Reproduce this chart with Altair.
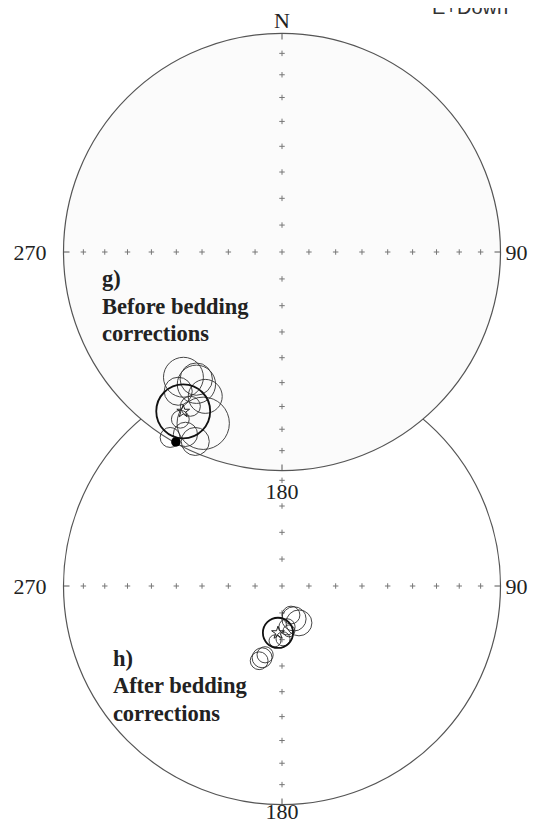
import altair as alt
import numpy as np
import pandas as pd

# ---------------- data ----------------
# g) before bedding corrections: site means (declination, inclination, alpha95 in degrees)
g_dec = [218.2, 212.9, 208.0, 216.7, 204.7, 207.9, 211.1, 204.6, 211.3, 210.7, 214.0]
g_inc = [27.9, 28.7, 26.1, 21.6, 14.8, 6.2, 1.0, 5.2, 11.4, 19.0, 30.5]
g_a95 = [7.4, 7.1, 6.3, 5.2, 9.7, 4.5, 3.7, 5.2, 3.3, 3.7, 6.0]
g_mean = [211.8, 15.3, 10.0]          # dec, inc, a95 of the mean (star)
g_dot = [209.2, 0.5]                  # lower-hemisphere filled point

# h) after bedding corrections
h_dec = [160.0, 162.8, 155.3, 173.0, 178.9, 195.5, 193.8, 197.0, 171.2, 187.3]
h_inc = [77.0, 78.7, 74.9, 74.7, 70.3, 62.1, 63.5, 60.7, 73.1, 69.4]
h_a95 = [4.5, 3.3, 4.8, 3.0, 2.6, 3.7, 3.0, 3.3, 2.2, 2.2]
h_mean = [184.9, 72.5, 5.6]

grid_inc = [10, 20, 30, 40, 50, 60, 70, 80, 90]
grid_dec = [0, 90, 180, 270]
cardinal_labels = ["N", "90", "180", "270"]
panel_text = ["g)\nBefore bedding\ncorrections", "h)\nAfter bedding\ncorrections"]
panel_text_anchor = [(-0.824, -0.156), (-0.774, -0.366)]   # in net radii, from net centre
corner_text = "E+Down"

# ---------------- layout constants ----------------
W, H = 520, 816
R_PX = 218.5
CX_PX, CY_PX = 274, 244
NET_CY = {"g": 0.0, "h": -334 / R_PX}
S_LABEL_DY = {"g": 28, "h": 14}
PX_PER_DEG = R_PX * np.sqrt(0.5) * np.pi / 180

xs = alt.Scale(domain=[(0 - CX_PX) / R_PX, (W - CX_PX) / R_PX], nice=False, zero=False)
ys = alt.Scale(domain=[(CY_PX - H) / R_PX, CY_PX / R_PX], nice=False, zero=False)
size_scale = alt.Scale(type="pow", exponent=2, domain=[0, 12],
                       range=[0, (2 * 12 * PX_PER_DEG) ** 2])


def proj(dec, inc, cy):
    dec = np.radians(np.asarray(dec, dtype=float))
    inc = np.asarray(inc, dtype=float)
    rho = np.sqrt(2) * np.sin(np.radians(90 - np.abs(inc)) / 2)
    return rho * np.sin(dec), cy + rho * np.cos(dec)


def XY():
    return dict(x=alt.X("x:Q", scale=xs, axis=None), y=alt.Y("y:Q", scale=ys, axis=None))


STAR = ("M0,-1L0.2233,-0.3074L0.9511,-0.309L0.3614,0.1174L0.5878,0.809L0,0.38"
        "L-0.5878,0.809L-0.3614,0.1174L-0.9511,-0.309L-0.2233,-0.3074Z")


def net_layers(net, fill, decs, incs, a95s, mean, text, anchor, dot=None):
    cy = NET_CY[net]
    layers = []
    # primitive circle
    prim = pd.DataFrame({"x": [0.0], "y": [cy]})
    layers.append(alt.Chart(prim).mark_point(
        shape="circle", size=(2 * R_PX) ** 2, filled=True, fill=fill,
        stroke="#555555", strokeWidth=1.2, opacity=1, fillOpacity=1, strokeOpacity=1
    ).encode(**XY()))
    # grid crosses
    gd, gi = [], []
    for d in grid_dec:
        for i in grid_inc[:-1]:
            gd.append(d); gi.append(i)
    gd.append(0); gi.append(90)
    gx, gy = proj(gd, gi, cy)
    layers.append(alt.Chart(pd.DataFrame({"x": gx, "y": gy})).mark_point(
        shape="M-1,0L1,0M0,-1L0,1", size=30, filled=False, stroke="#777777",
        strokeWidth=1, opacity=1
    ).encode(**XY()))
    # cardinal ticks (pointing inward)
    tx, ty = proj(grid_dec, [0, 0, 0, 0], cy)
    ticks = pd.DataFrame({"x": tx, "y": ty, "dir": ["N", "E", "S", "W"]})
    layers.append(alt.Chart(ticks).mark_point(
        filled=False, size=144, stroke="#555555", strokeWidth=1, opacity=1
    ).encode(**XY(), shape=alt.Shape("dir:N", legend=None, scale=alt.Scale(
        domain=["N", "E", "S", "W"],
        range=["M0,0L0,1", "M0,0L-1,0", "M0,0L0,-1", "M0,0L1,0"]))))
    # cardinal labels
    lab = pd.DataFrame({"x": tx, "y": ty, "t": cardinal_labels})
    base = dict(font="Liberation Serif", fontSize=22, color="#222222")
    for t, kw in [("N", dict(align="center", baseline="alphabetic", dy=-6)),
                  ("90", dict(align="left", baseline="alphabetic", dx=5, dy=8)),
                  ("180", dict(align="center", baseline="alphabetic", dy=S_LABEL_DY[net])),
                  ("270", dict(align="right", baseline="alphabetic", dx=-17, dy=8))]:
        layers.append(alt.Chart(lab[lab.t == t]).mark_text(**base, **kw)
                      .encode(**XY(), text="t:N"))
    # site alpha95 circles
    sx, sy = proj(decs, incs, cy)
    sites = pd.DataFrame({"x": sx, "y": sy, "a95": a95s})
    layers.append(alt.Chart(sites).mark_point(
        shape="circle", filled=False, stroke="#333333", strokeWidth=1, opacity=0.9
    ).encode(**XY(), size=alt.Size("a95:Q", scale=size_scale, legend=None)))
    # mean circle and star
    mx, my = proj([mean[0]], [mean[1]], cy)
    m = pd.DataFrame({"x": mx, "y": my, "a95": [mean[2]]})
    layers.append(alt.Chart(m).mark_point(
        shape="circle", filled=False, stroke="#111111", strokeWidth=1.8, opacity=1
    ).encode(**XY(), size=alt.Size("a95:Q", scale=size_scale, legend=None)))
    layers.append(alt.Chart(m).mark_point(
        shape=STAR, filled=False, size=180, stroke="#222222", strokeWidth=1, opacity=1
    ).encode(**XY()))
    if dot is not None:
        dx_, dy_ = proj([dot[0]], [dot[1]], cy)
        layers.append(alt.Chart(pd.DataFrame({"x": dx_, "y": dy_})).mark_point(
            shape="circle", filled=True, fill="#000000", size=90, opacity=1
        ).encode(**XY()))
    # panel annotation
    ann = pd.DataFrame({"x": [anchor[0]], "y": [cy + anchor[1]], "t": [text]})
    layers.append(alt.Chart(ann).mark_text(
        font="Liberation Serif", fontSize=22.5, fontWeight="bold", color="#222222",
        align="left", baseline="alphabetic", lineBreak="\n", lineHeight=27.5
    ).encode(**XY(), text="t:N"))
    return layers


layers = []
layers += net_layers("h", "#ffffff", h_dec, h_inc, h_a95, h_mean,
                     panel_text[1], panel_text_anchor[1])
layers += net_layers("g", "#fbfbfb", g_dec, g_inc, g_a95, g_mean,
                     panel_text[0], panel_text_anchor[0], dot=g_dot)

corner = pd.DataFrame({"x": [(424 - CX_PX) / R_PX], "y": [(CY_PX - 6) / R_PX], "t": [corner_text]})
layers.append(alt.Chart(corner).mark_text(
    font="Liberation Sans", fontSize=20, color="#333333", align="left",
    baseline="alphabetic", clip=True
).encode(**XY(), text="t:N"))

chart = alt.layer(*layers).properties(
    width=W, height=H,
    autosize=alt.AutoSizeParams(type="none"),
    padding={"left": 0, "top": 0, "right": 0, "bottom": 0},
    background="#ffffff",
).configure_view(stroke=None)

chart.save("out.html", embed_options={"renderer": "svg", "actions": False})
